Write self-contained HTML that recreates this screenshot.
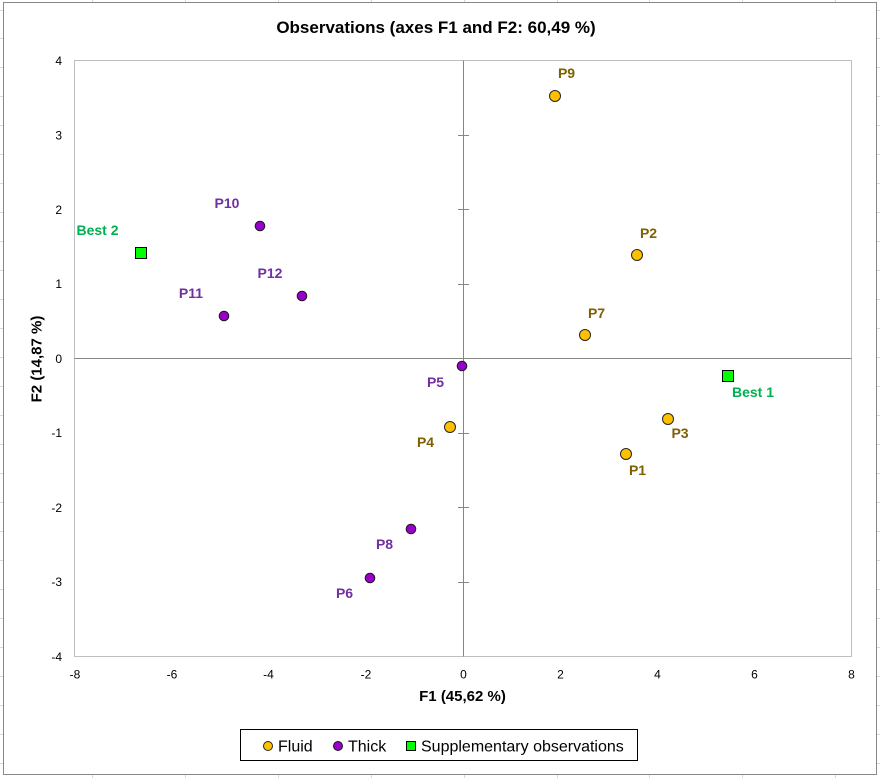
<!DOCTYPE html>
<html><head><meta charset="utf-8"><style>
html,body{margin:0;padding:0;background:#fff;}
svg{display:block;}
text{font-family:"Liberation Sans",Arial,sans-serif;}
</style></head><body>
<svg width="880" height="778" viewBox="0 0 880 778" xmlns="http://www.w3.org/2000/svg">
<!-- spreadsheet gridlines -->
<g stroke="#d9d9d9" stroke-width="1">
<line x1="92.5" y1="0" x2="92.5" y2="778"/><line x1="185.5" y1="0" x2="185.5" y2="778"/><line x1="278.5" y1="0" x2="278.5" y2="778"/><line x1="371.5" y1="0" x2="371.5" y2="778"/><line x1="464.5" y1="0" x2="464.5" y2="778"/><line x1="557.5" y1="0" x2="557.5" y2="778"/><line x1="649.5" y1="0" x2="649.5" y2="778"/><line x1="742.5" y1="0" x2="742.5" y2="778"/><line x1="835.5" y1="0" x2="835.5" y2="778"/>
<line x1="0" y1="10.5" x2="880" y2="10.5"/><line x1="0" y1="38.5" x2="880" y2="38.5"/><line x1="0" y1="67.5" x2="880" y2="67.5"/><line x1="0" y1="96.5" x2="880" y2="96.5"/><line x1="0" y1="125.5" x2="880" y2="125.5"/><line x1="0" y1="154.5" x2="880" y2="154.5"/><line x1="0" y1="183.5" x2="880" y2="183.5"/><line x1="0" y1="212.5" x2="880" y2="212.5"/><line x1="0" y1="241.5" x2="880" y2="241.5"/><line x1="0" y1="270.5" x2="880" y2="270.5"/><line x1="0" y1="299.5" x2="880" y2="299.5"/><line x1="0" y1="328.5" x2="880" y2="328.5"/><line x1="0" y1="357.5" x2="880" y2="357.5"/><line x1="0" y1="386.5" x2="880" y2="386.5"/><line x1="0" y1="415.5" x2="880" y2="415.5"/><line x1="0" y1="444.5" x2="880" y2="444.5"/><line x1="0" y1="473.5" x2="880" y2="473.5"/><line x1="0" y1="502.5" x2="880" y2="502.5"/><line x1="0" y1="531.5" x2="880" y2="531.5"/><line x1="0" y1="560.5" x2="880" y2="560.5"/><line x1="0" y1="589.5" x2="880" y2="589.5"/><line x1="0" y1="618.5" x2="880" y2="618.5"/><line x1="0" y1="647.5" x2="880" y2="647.5"/><line x1="0" y1="676.5" x2="880" y2="676.5"/><line x1="0" y1="705.5" x2="880" y2="705.5"/><line x1="0" y1="734.5" x2="880" y2="734.5"/><line x1="0" y1="763.5" x2="880" y2="763.5"/>
</g>
<!-- chart area -->
<rect x="3.5" y="2.5" width="873" height="772" fill="#fff" stroke="#888" stroke-width="1"/>
<!-- plot area -->
<rect x="74.5" y="60.5" width="777" height="596" fill="#fff" stroke="#bfbfbf" stroke-width="1"/>
<!-- axes -->
<g stroke="#868686" stroke-width="1">
<line x1="74.5" y1="358.5" x2="851.5" y2="358.5"/>
<line x1="463.5" y1="60.5" x2="463.5" y2="656.5"/>
<line x1="458" y1="135.5" x2="469" y2="135.5"/>
<line x1="458" y1="209.5" x2="469" y2="209.5"/>
<line x1="458" y1="284.5" x2="469" y2="284.5"/>
<line x1="458" y1="433.5" x2="469" y2="433.5"/>
<line x1="458" y1="507.5" x2="469" y2="507.5"/>
<line x1="458" y1="582.5" x2="469" y2="582.5"/>
</g>
<!-- title -->
<text x="436" y="33" font-size="17" font-weight="bold" text-anchor="middle" fill="#000">Observations (axes F1 and F2: 60,49 %)</text>
<!-- x tick labels -->
<g font-size="12" fill="#000" text-anchor="middle">
<text x="75" y="678.5">-8</text><text x="172" y="678.5">-6</text><text x="268.5" y="678.5">-4</text><text x="366" y="678.5">-2</text><text x="463.5" y="678.5">0</text><text x="560.5" y="678.5">2</text><text x="657.5" y="678.5">4</text><text x="754.5" y="678.5">6</text><text x="851.5" y="678.5">8</text>
</g>
<!-- y tick labels -->
<g font-size="12" fill="#000" text-anchor="end">
<text x="62" y="65">4</text><text x="62" y="139.5">3</text><text x="62" y="214">2</text><text x="62" y="288">1</text><text x="62" y="363">0</text><text x="62" y="437">-1</text><text x="62" y="512">-2</text><text x="62" y="586">-3</text><text x="62" y="661">-4</text>
</g>
<!-- axis titles -->
<text x="462.5" y="701" font-size="15" font-weight="bold" text-anchor="middle" fill="#000">F1 (45,62 %)</text>
<text transform="translate(41.5,359) rotate(-90)" x="0" y="0" font-size="15" font-weight="bold" text-anchor="middle" fill="#000">F2 (14,87 %)</text>
<!-- fluid points -->
<g fill="#FFC000" stroke="#262626" stroke-width="1">
<circle cx="555" cy="96" r="5.5"/>
<circle cx="637" cy="255" r="5.5"/>
<circle cx="585" cy="335" r="5.5"/>
<circle cx="450" cy="427" r="5.5"/>
<circle cx="668" cy="419" r="5.5"/>
<circle cx="626" cy="454" r="5.5"/>
</g>
<!-- thick points -->
<g fill="#9900CC" stroke="#1a1a1a" stroke-width="1">
<circle cx="462" cy="366" r="4.8"/>
<circle cx="260" cy="226" r="4.8"/>
<circle cx="302" cy="296" r="4.8"/>
<circle cx="224" cy="316" r="4.8"/>
<circle cx="411" cy="529" r="4.8"/>
<circle cx="370" cy="578" r="4.8"/>
</g>
<!-- supplementary -->
<g fill="#00FF00" stroke="#000" stroke-width="1">
<rect x="722.5" y="370.5" width="11" height="11"/>
<rect x="135.5" y="247.5" width="11" height="11"/>
</g>
<!-- labels -->
<g font-size="14" font-weight="bold" text-anchor="middle">
<g fill="#7F6000">
<text x="566.5" y="78">P9</text>
<text x="648.5" y="238">P2</text>
<text x="596.5" y="318">P7</text>
<text x="425.5" y="447">P4</text>
<text x="680" y="438">P3</text>
<text x="637.5" y="475">P1</text>
</g>
<g fill="#7030A0">
<text x="435.5" y="387">P5</text>
<text x="227" y="208">P10</text>
<text x="270" y="278">P12</text>
<text x="191" y="298">P11</text>
<text x="384.5" y="549">P8</text>
<text x="344.5" y="598">P6</text>
</g>
<g fill="#00B050">
<text x="753" y="397">Best 1</text>
<text x="97.5" y="235">Best 2</text>
</g>
</g>
<!-- legend -->
<rect x="240.5" y="729.5" width="397" height="31" fill="#fff" stroke="#000" stroke-width="1"/>
<circle cx="268" cy="746" r="4.5" fill="#FFC000" stroke="#262626" stroke-width="1"/>
<circle cx="338" cy="746" r="4.5" fill="#9900CC" stroke="#1a1a1a" stroke-width="1"/>
<rect x="406.5" y="741.5" width="9" height="9" fill="#00FF00" stroke="#000" stroke-width="1"/>
<g font-size="16" fill="#000">
<text x="278" y="751.5">Fluid</text>
<text x="348" y="751.5">Thick</text>
<text x="421" y="751.5">Supplementary observations</text>
</g>
</svg>
</body></html>
